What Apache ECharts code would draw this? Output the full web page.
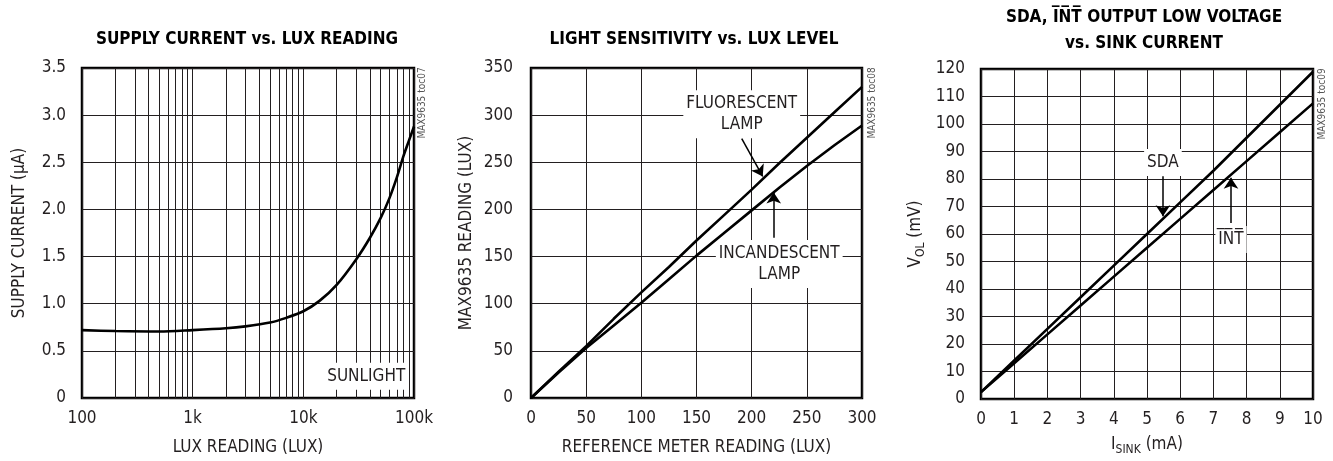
<!DOCTYPE html>
<html>
<head>
<meta charset="utf-8">
<script src="https://cdn.jsdelivr.net/npm/echarts@6/dist/echarts.min.js"></script>
<style>
  html, body { margin: 0; padding: 0; background: #fff; }
  #main { width: 1333px; height: 461px; }
</style>
</head>
<body>
<div id="main"></div>
<script>
// chart 1: supply current vs lux
var luxX = [100, 200, 500, 1000, 2000, 3000, 5000, 7000, 10000, 14000, 20000, 30000, 40000, 50000, 60000, 70000, 80000, 90000, 100000];
var supplyI = [0.72, 0.71, 0.705, 0.72, 0.74, 0.76, 0.80, 0.85, 0.92, 1.03, 1.2, 1.47, 1.7, 1.91, 2.12, 2.34, 2.56, 2.73, 2.88];
var luxMinor = [200, 300, 400, 500, 600, 700, 800, 900, 2000, 3000, 4000, 5000, 6000, 7000, 8000, 9000, 20000, 30000, 40000, 50000, 60000, 70000, 80000, 90000];

// chart 2: light sensitivity
var refLux = [0, 25, 50, 75, 100, 125, 150, 175, 200, 225, 250, 275, 300];
var fluorescent = [0, 28, 55, 84, 112, 139, 167, 194, 221, 249, 276, 303, 330];
var incandescent = [0, 27, 53, 77, 101, 126, 151, 175, 199, 223, 246, 268, 289];

// chart 3: VOL vs sink current
var isink = [0, 1, 2, 3, 4, 5, 6, 7, 8, 9, 10];
var sdaV = [2.5, 14, 25.5, 37, 48.5, 60, 71.5, 83, 95, 107, 119];
var intV = [2.5, 13, 23.5, 34, 44.5, 55, 65.5, 76, 86.5, 97, 107.5];

var FONT = '"Liberation Sans Narrow", "DejaVu Sans Condensed", sans-serif';
var INK = '#231f20';

function pairs(xs, ys) {
  return xs.map(function (x, i) { return [x, ys[i]]; });
}

var gridLine = { show: true, lineStyle: { color: INK, width: 1 } };
var tickLabel = { fontSize: 17, color: INK, fontFamily: FONT };
var nameStyle = { fontSize: 17, color: INK, fontFamily: FONT };

function textLabel(text, coord) {
  return {
    coord: coord,
    label: { formatter: text }
  };
}
var markLabelStyle = {
  show: true, position: 'inside', backgroundColor: '#fff', padding: [3, 3],
  fontSize: 17, lineHeight: 21, color: INK, fontFamily: FONT
};
function labelMark(text, coord) {
  // text box with white background that breaks the grid lines, drawn under the curves
  return {
    silent: true, symbol: 'rect', symbolSize: 1, z: 1,
    itemStyle: { color: 'rgba(0,0,0,0)' }, label: markLabelStyle,
    data: [textLabel(text, coord)]
  };
}
function arrow(from, to) {
  return [{ coord: from }, { coord: to }];
}
var arrowStyle = {
  silent: true, symbol: ['none', 'arrow'], symbolSize: 11,
  label: { show: false }, lineStyle: { color: '#000', width: 1.5, type: 'solid' }
};

var myChart = echarts.init(document.getElementById('main'));

var option = {
  animation: false,
  backgroundColor: '#fff',
  graphic: [
    { type: 'text', x: 247, y: 31, style: { text: 'SUPPLY CURRENT vs. LUX READING', font: 'bold 17px ' + FONT, fill: '#000', align: 'center', verticalAlign: 'top' } },
    { type: 'text', x: 694, y: 31, style: { text: 'LIGHT SENSITIVITY vs. LUX LEVEL', font: 'bold 17px ' + FONT, fill: '#000', align: 'center', verticalAlign: 'top' } },
    { type: 'text', x: 1144, y: 5, style: { text: 'SDA, I\u0305N\u0305T\u0305 OUTPUT LOW VOLTAGE\nvs. SINK CURRENT', font: 'bold 17px ' + FONT, lineHeight: 26, fill: '#000', align: 'center', verticalAlign: 'top' } },
    { type: 'text', x: 422, y: 103, rotation: Math.PI / 2, style: { text: 'MAX9635 toc07', font: '10px ' + FONT, fill: '#555', align: 'center', verticalAlign: 'middle' } },
    { type: 'text', x: 872, y: 103, rotation: Math.PI / 2, style: { text: 'MAX9635 toc08', font: '10px ' + FONT, fill: '#555', align: 'center', verticalAlign: 'middle' } },
    { type: 'text', x: 1322, y: 104, rotation: Math.PI / 2, style: { text: 'MAX9635 toc09', font: '10px ' + FONT, fill: '#555', align: 'center', verticalAlign: 'middle' } }
  ],
  grid: [
    { left: 82, top: 68, width: 332, height: 331, show: true, borderColor: '#000', borderWidth: 2.5 },
    { left: 531, top: 68, width: 331, height: 331, show: true, borderColor: '#000', borderWidth: 2.5 },
    { left: 981, top: 69, width: 332, height: 331, show: true, borderColor: '#000', borderWidth: 2.5 }
  ],
  xAxis: [
    {
      gridIndex: 0, type: 'log', logBase: 10, min: 100, max: 100000,
      axisLine: { show: false }, axisTick: { show: false }, splitLine: gridLine,
      axisLabel: Object.assign({ margin: 12, formatter: function (v) {
        return ['100', '1k', '10k', '100k'][Math.round(Math.log10(v)) - 2];
      } }, tickLabel),
      name: 'LUX READING (LUX)', nameLocation: 'middle', nameGap: 41, nameTextStyle: nameStyle
    },
    {
      gridIndex: 1, type: 'value', min: 0, max: 300, interval: 50,
      axisLine: { show: false }, axisTick: { show: false }, splitLine: gridLine,
      axisLabel: Object.assign({ margin: 12 }, tickLabel),
      name: 'REFERENCE METER READING (LUX)', nameLocation: 'middle', nameGap: 41, nameTextStyle: nameStyle
    },
    {
      gridIndex: 2, type: 'value', min: 0, max: 10, interval: 1,
      axisLine: { show: false }, axisTick: { show: false }, splitLine: gridLine,
      axisLabel: Object.assign({ margin: 12 }, tickLabel),
      name: '{m|I}{s|SINK}{m| (mA)}', nameLocation: 'middle', nameGap: 35,
      nameTextStyle: {
        rich: {
          m: { fontSize: 17, lineHeight: 22, color: INK, fontFamily: FONT },
          s: { fontSize: 12, lineHeight: 12, color: INK, fontFamily: FONT, verticalAlign: 'bottom' }
        }
      }
    }
  ],
  yAxis: [
    {
      gridIndex: 0, type: 'value', min: 0, max: 3.5, interval: 0.5,
      axisLine: { show: false }, axisTick: { show: false }, splitLine: gridLine,
      axisLabel: Object.assign({ margin: 16, formatter: function (v) { return v === 0 ? '0' : v.toFixed(1); } }, tickLabel),
      name: 'SUPPLY CURRENT (\u00b5A)', nameLocation: 'middle', nameGap: 54, nameTextStyle: nameStyle
    },
    {
      gridIndex: 1, type: 'value', min: 0, max: 350, interval: 50,
      axisLine: { show: false }, axisTick: { show: false }, splitLine: gridLine,
      axisLabel: Object.assign({ margin: 18 }, tickLabel),
      name: 'MAX9635 READING (LUX)', nameLocation: 'middle', nameGap: 56, nameTextStyle: nameStyle
    },
    {
      gridIndex: 2, type: 'value', min: 0, max: 120, interval: 10,
      axisLine: { show: false }, axisTick: { show: false }, splitLine: gridLine,
      axisLabel: Object.assign({ margin: 16 }, tickLabel),
      name: '{m|V}{s|OL}{m| (mV)}', nameLocation: 'middle', nameGap: 54,
      nameTextStyle: {
        rich: {
          m: { fontSize: 17, lineHeight: 22, color: INK, fontFamily: FONT },
          s: { fontSize: 12, lineHeight: 12, color: INK, fontFamily: FONT, verticalAlign: 'bottom' }
        }
      }
    }
  ],
  series: [
    {
      // minor log grid lines
      type: 'line', xAxisIndex: 0, yAxisIndex: 0, data: [], silent: true,
      markLine: {
        silent: true, symbol: 'none', z: 0, label: { show: false },
        lineStyle: { color: INK, width: 1, type: 'solid' },
        data: luxMinor.map(function (v) { return { xAxis: v }; })
      }
    },
    {
      name: 'Supply current', type: 'line', xAxisIndex: 0, yAxisIndex: 0,
      data: pairs(luxX, supplyI), smooth: 0.3, showSymbol: false, silent: true,
      lineStyle: { color: '#000', width: 2.6 },
      markPoint: labelMark('SUNLIGHT', [37000, 0.23])
    },
    {
      name: 'Fluorescent', type: 'line', xAxisIndex: 1, yAxisIndex: 1,
      data: pairs(refLux, fluorescent), showSymbol: false, silent: true,
      lineStyle: { color: '#000', width: 2.6 },
      markPoint: labelMark('FLUORESCENT\nLAMP', [191, 301]),
      markLine: Object.assign({ data: [arrow([191, 275], [210, 235])] }, arrowStyle)
    },
    {
      name: 'Incandescent', type: 'line', xAxisIndex: 1, yAxisIndex: 1,
      data: pairs(refLux, incandescent), showSymbol: false, silent: true,
      lineStyle: { color: '#000', width: 2.6 },
      markPoint: labelMark('INCANDESCENT\nLAMP', [225, 142]),
      markLine: Object.assign({ data: [arrow([220, 170], [220, 218])] }, arrowStyle)
    },
    {
      name: 'SDA', type: 'line', xAxisIndex: 2, yAxisIndex: 2,
      data: pairs(isink, sdaV), showSymbol: false, silent: true,
      lineStyle: { color: '#000', width: 2.6 },
      markPoint: labelMark('SDA', [5.48, 86]),
      markLine: Object.assign({ data: [arrow([5.48, 81], [5.48, 66.5])] }, arrowStyle)
    },
    {
      name: 'INT', type: 'line', xAxisIndex: 2, yAxisIndex: 2,
      data: pairs(isink, intV), showSymbol: false, silent: true,
      lineStyle: { color: '#000', width: 2.6 },
      markPoint: labelMark('I\u0305N\u0305T\u0305', [7.53, 58]),
      markLine: Object.assign({ data: [arrow([7.53, 64], [7.53, 80.5])] }, arrowStyle)
    }
  ]
};

myChart.setOption(option);
</script>
</body>
</html>
